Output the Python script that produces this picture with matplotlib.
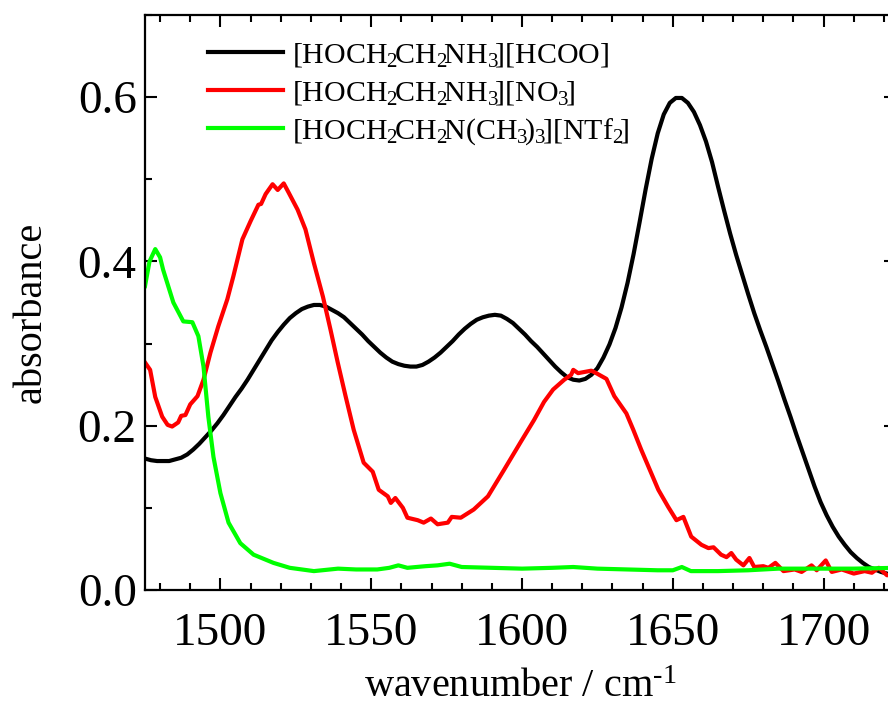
import matplotlib
matplotlib.use("Agg")
import matplotlib.pyplot as plt
from matplotlib.ticker import MultipleLocator, FormatStrFormatter

# ---- data ----
hcoo_wn = [1475, 1477, 1479, 1481, 1483, 1485, 1487, 1489, 1491, 1493,
           1495, 1497, 1499, 1501, 1503, 1505, 1507, 1509, 1511, 1513,
           1515, 1517, 1519, 1521, 1523, 1525, 1527, 1529, 1531, 1533,
           1535, 1537, 1539, 1541, 1543, 1545, 1547, 1549, 1551, 1553,
           1555, 1557, 1559, 1561, 1563, 1565, 1567, 1569, 1571, 1573,
           1575, 1577, 1579, 1581, 1583, 1585, 1587, 1589, 1591, 1593,
           1595, 1597, 1599, 1601, 1603, 1605, 1607, 1609, 1611, 1613,
           1615, 1617, 1619, 1621, 1623, 1625, 1627, 1629, 1631, 1633,
           1635, 1637, 1639, 1641, 1643, 1645, 1647, 1649, 1651, 1653,
           1655, 1657, 1659, 1661, 1663, 1665, 1667, 1669, 1671, 1673,
           1675, 1677, 1679, 1681, 1683, 1685, 1687, 1689, 1691, 1693,
           1695, 1697, 1699, 1701, 1703, 1705, 1707, 1709, 1711, 1713,
           1715, 1717, 1719, 1721, 1723, 1724]
hcoo_abs = [0.160, 0.158, 0.157, 0.157, 0.157, 0.159, 0.161, 0.165, 0.171, 0.178,
            0.186, 0.194, 0.203, 0.213, 0.224, 0.235, 0.245, 0.256, 0.268, 0.280,
            0.292, 0.304, 0.314, 0.323, 0.331, 0.337, 0.342, 0.345, 0.347, 0.347,
            0.345, 0.341, 0.337, 0.332, 0.325, 0.318, 0.311, 0.303, 0.296, 0.289,
            0.283, 0.278, 0.275, 0.273, 0.272, 0.272, 0.274, 0.278, 0.283, 0.289,
            0.296, 0.303, 0.311, 0.318, 0.324, 0.329, 0.332, 0.334, 0.335, 0.334,
            0.330, 0.325, 0.318, 0.311, 0.303, 0.296, 0.288, 0.280, 0.272, 0.265,
            0.259, 0.256, 0.255, 0.257, 0.262, 0.270, 0.283, 0.299, 0.319, 0.344,
            0.374, 0.409, 0.448, 0.488, 0.525, 0.556, 0.579, 0.593, 0.599, 0.599,
            0.593, 0.582, 0.566, 0.546, 0.521, 0.491, 0.462, 0.434, 0.408, 0.384,
            0.360, 0.337, 0.316, 0.296, 0.275, 0.254, 0.232, 0.211, 0.189, 0.168,
            0.147, 0.126, 0.107, 0.091, 0.077, 0.065, 0.055, 0.046, 0.039, 0.033,
            0.028, 0.025, 0.022, 0.020, 0.018, 0.018]

no3_wn = [1475, 1476.7, 1478.4, 1480.7, 1482.5, 1484, 1486, 1487, 1488.4, 1490, 1492.4,
          1494.4, 1496.7, 1499.3, 1502.3, 1504.3, 1507.3, 1510, 1512.6, 1513.5, 1515,
          1517.3, 1519, 1521, 1522.6, 1525.6, 1528.2, 1531, 1534, 1536.5, 1538.9, 1541.5,
          1544.2, 1547.5, 1550.5, 1552.5, 1555.5, 1556.5, 1558, 1560.5, 1562, 1565.4,
          1567.4, 1569.8, 1572, 1575.4, 1576.7, 1579.7, 1584, 1588.7, 1594, 1599.7, 1604,
          1607.3, 1610.3, 1614, 1616.3, 1617, 1618.6, 1623, 1624.6, 1628, 1630.6, 1634.6,
          1636.9, 1639.5, 1645.2, 1648.5, 1651.2, 1653.5, 1656.1, 1659.5, 1661.8, 1663.5,
          1666, 1667.8, 1669.4, 1671, 1673.4, 1675.4, 1677, 1680, 1681.7, 1684, 1686.7,
          1690.4, 1692.7, 1696, 1697.7, 1700.7, 1702.7, 1706, 1710, 1713.6, 1716, 1718.3,
          1721, 1724]
no3_abs = [0.277, 0.268, 0.235, 0.211, 0.201, 0.199, 0.204, 0.212, 0.213, 0.226, 0.236,
           0.256, 0.289, 0.321, 0.354, 0.382, 0.427, 0.449, 0.469, 0.470, 0.482, 0.494,
           0.487, 0.495, 0.484, 0.463, 0.439, 0.398, 0.357, 0.317, 0.277, 0.236, 0.195,
           0.155, 0.144, 0.122, 0.114, 0.106, 0.112, 0.100, 0.088, 0.085, 0.082, 0.087,
           0.080, 0.082, 0.089, 0.088, 0.098, 0.114, 0.146, 0.181, 0.207, 0.229, 0.244,
           0.256, 0.262, 0.268, 0.264, 0.267, 0.264, 0.257, 0.236, 0.215, 0.195, 0.171,
           0.122, 0.101, 0.085, 0.089, 0.065, 0.055, 0.051, 0.052, 0.043, 0.040, 0.045,
           0.037, 0.030, 0.039, 0.028, 0.029, 0.027, 0.033, 0.023, 0.025, 0.022, 0.030,
           0.024, 0.036, 0.022, 0.025, 0.020, 0.023, 0.021, 0.027, 0.018, 0.018]

ntf2_wn = [1475, 1476.5, 1478.4, 1480, 1481, 1484.4, 1487.7, 1490.7, 1492.7, 1494.4, 1496,
           1497.7, 1500, 1502.7, 1506.6, 1511, 1517.6, 1523, 1531, 1539, 1545, 1552, 1556,
           1559, 1562, 1568, 1572, 1576, 1580, 1590, 1600, 1610, 1617, 1625, 1635, 1645,
           1650, 1653, 1656, 1665, 1675, 1685, 1700, 1710, 1724]
ntf2_abs = [0.370, 0.400, 0.415, 0.405, 0.390, 0.350, 0.327, 0.326, 0.309, 0.272, 0.211,
            0.162, 0.118, 0.082, 0.057, 0.043, 0.033, 0.027, 0.023, 0.026, 0.025, 0.025,
            0.027, 0.030, 0.027, 0.029, 0.030, 0.032, 0.028, 0.027, 0.026, 0.027, 0.028,
            0.026, 0.025, 0.024, 0.024, 0.028, 0.023, 0.023, 0.024, 0.026, 0.026, 0.026,
            0.027]

labels = [r'[HOCH$_2\!$CH$_2\!$NH$_3\!$][HCOO]',
          r'[HOCH$_2\!$CH$_2\!$NH$_3\!$][NO$_3\!$]',
          r'[HOCH$_2\!$CH$_2\!$N(CH$_3\!$)$_3\!$][NTf$_2\!$]']
colors = ['#000000', '#ff0000', '#00ff00']

# ---- style ----
plt.rcParams['font.family'] = ['Liberation Serif', 'DejaVu Serif']
plt.rcParams['mathtext.fontset'] = 'custom'
plt.rcParams['mathtext.rm'] = 'Liberation Serif'
plt.rcParams['mathtext.it'] = 'Liberation Serif:italic'
plt.rcParams['mathtext.bf'] = 'Liberation Serif:bold'

fig = plt.figure(figsize=(8.88, 7.06), dpi=100)
ax = fig.add_axes([145 / 888, 1 - 590 / 706, (896 - 145) / 888, (590 - 15) / 706])

for wn, ab, c, lab in zip([hcoo_wn, no3_wn, ntf2_wn], [hcoo_abs, no3_abs, ntf2_abs], colors, labels):
    ax.plot(wn, ab, color=c, lw=3.0, label=lab, solid_joinstyle='round')

ax.set_xlim(1475, 1724)
ax.set_ylim(0.0, 0.7)
ax.xaxis.set_major_locator(MultipleLocator(50))
ax.xaxis.set_minor_locator(MultipleLocator(10))
ax.yaxis.set_major_locator(MultipleLocator(0.2))
ax.yaxis.set_minor_locator(MultipleLocator(0.1))
ax.yaxis.set_major_formatter(FormatStrFormatter('%.1f'))

ax.tick_params(which='both', direction='in', top=True, right=True, width=1.5)
ax.tick_params(which='major', length=8.5)
ax.tick_params(which='minor', length=5)
ax.tick_params(axis='x', which='major', pad=16, labelsize=34)
ax.tick_params(axis='y', which='major', pad=6, labelsize=34)
for s in ax.spines.values():
    s.set_linewidth(1.6)

ax.set_xlabel(r'wavenumber / cm$^{\text{-1}}$', fontsize=29, labelpad=10)
ax.set_ylabel('absorbance', fontsize=29, labelpad=20)
ax.yaxis.label.set_y(0.483)

ax.legend(loc='upper left', bbox_to_anchor=(0.084, 0.955), frameon=False, fontsize=21.5,
          handlelength=2.5, handletextpad=0.3, labelspacing=0.33, borderpad=0,
          borderaxespad=0)

fig.savefig('out.png', dpi=100)
